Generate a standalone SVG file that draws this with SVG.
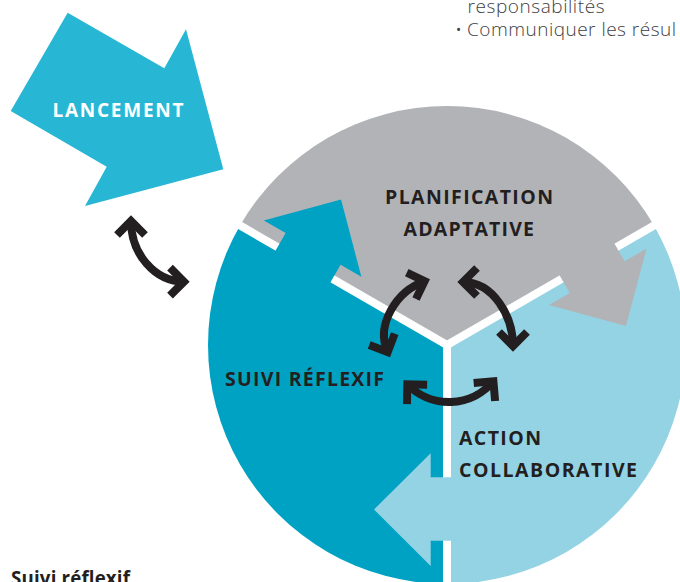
<svg xmlns="http://www.w3.org/2000/svg" xmlns:xlink="http://www.w3.org/1999/xlink" width="680" height="582" viewBox="0 0 680 582">
<style>
.lbl{font-family:"Open Sans","Noto Sans",sans-serif;font-weight:700;font-size:19.5px;fill:#231f20;}
.white{fill:#ffffff;}
.body{font-family:"Open Sans","Noto Sans",sans-serif;font-weight:300;font-size:19px;fill:#414042;}
.bold{font-family:"Open Sans","Noto Sans",sans-serif;font-weight:700;font-size:18.7px;fill:#231f20;}
.conn{fill:none;stroke:#231f20;stroke-width:8;marker-start:url(#chev);marker-end:url(#chev);}
.div{stroke:#ffffff;stroke-width:8;fill:none;}
</style>
<defs>
<marker id="chev" markerUnits="userSpaceOnUse" viewBox="-30 -30 60 60" markerWidth="60" markerHeight="60" refX="0" refY="0" orient="auto-start-reverse" overflow="visible">
<path d="M-14,-14 L0,0 L-14,14" fill="none" stroke="#231f20" stroke-width="8" stroke-linejoin="miter"/>
</marker>
<path id="sectorArrow" d="M374,509.5 L430.7,453.3 L430.7,477.3 L456,477.3 L456,540.7 L430.7,540.7 L430.7,566 Z"/>
</defs>

<g id="node-lancement">
<polygon points="10.7,111 67.7,12.7 164.3,68.3 186,29.3 223.3,169.3 85,206 106.7,166.7" fill="#27b7d4"/>
<text class="lbl white" x="52.5" y="116.7" textLength="131" lengthAdjust="spacing" style="font-size:19px">LANCEMENT</text>
</g>

<g id="node-planification">
<path d="M447,345 L240.02,225.5 A239,239 0 0 1 653.98,225.5 Z" fill="#b2b3b7"/>
</g>
<g id="node-action">
<path d="M447,345 L653.98,225.5 A239,239 0 0 1 447,584 Z" fill="#94d3e4"/>
</g>
<g id="node-suivi">
<path d="M447,345 L447,584 A239,239 0 0 1 240.02,225.5 Z" fill="#00a2c4"/>
</g>

<g id="wheel-dividers">
<line class="div" x1="447" y1="345" x2="447" y2="595"/>
<line class="div" x1="447" y1="345" x2="230.5" y2="220"/>
<line class="div" x1="447" y1="345" x2="663.5" y2="220"/>
<circle cx="447" cy="345" r="4.2" fill="#ffffff"/>
</g>

<g id="wheel-arrowheads">
<use xlink:href="#sectorArrow" fill="#94d3e4"/>
<use xlink:href="#sectorArrow" fill="#00a2c4" transform="rotate(120 447 345)"/>
<use xlink:href="#sectorArrow" fill="#b2b3b7" transform="rotate(240 447 345)"/>
</g>

<g id="labels">
<text class="lbl" x="385" y="204.3" textLength="168" lengthAdjust="spacing">PLANIFICATION</text>
<text class="lbl" x="403.5" y="236" textLength="130.5" lengthAdjust="spacing">ADAPTATIVE</text>
<text class="lbl" x="225" y="385.7" textLength="159" lengthAdjust="spacing">SUIVI RÉFLEXIF</text>
<text class="lbl" x="459" y="445" textLength="82" lengthAdjust="spacing">ACTION</text>
<text class="lbl" x="459" y="476.7" textLength="178" lengthAdjust="spacing">COLLABORATIVE</text>
</g>

<g id="connectors">
<path class="conn" d="M131,221 C131,254 155,281.7 184,281.7"/>
<path class="conn" d="M424.6,281.2 C396.4,291.1 375.4,324.8 387.7,352.1"/>
<path class="conn" d="M463,282 C493,282 513,316 513,346"/>
<path class="conn" d="M407.3,384.3 A58,58 0 0 0 493.4,381.3"/>
</g>

<g id="notes">
<text class="body" x="467.5" y="13.3" textLength="137" lengthAdjust="spacing">responsabilités</text>
<text class="body" x="455" y="36">•</text>
<text class="body" x="467" y="36" textLength="209" lengthAdjust="spacing">Communiquer les résul</text>
<text class="bold" x="11" y="585" textLength="119" lengthAdjust="spacing">Suivi réflexif</text>
</g>
</svg>
